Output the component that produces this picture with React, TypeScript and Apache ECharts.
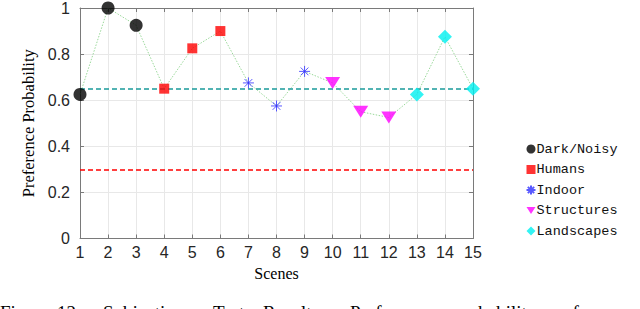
import React, { useEffect, useRef } from "react";
import * as echarts from "echarts";

const scenes = [1, 2, 3, 4, 5, 6, 7, 8, 9, 10, 11, 12, 13, 14, 15];
const preference = [0.625, 1.0, 0.925, 0.65, 0.825, 0.9, 0.675, 0.575, 0.725, 0.675, 0.55, 0.525, 0.625, 0.875, 0.65];
const categoryNames = ["Dark/Noisy", "Humans", "Indoor", "Structures", "Landscapes"];
const categoryScenes = [[1, 2, 3], [4, 5, 6], [7, 8, 9], [10, 11, 12], [13, 14, 15]];
const meanLine = 0.65;
const chanceLine = 0.3;
const captionWords = ["Fig.", "12:", "Subjective", "Test", "Results.", "Preference", "probability", "of", "our"];

const captionX = [0, 57, 103, 213, 263, 350, 453, 563, 600];

const asterisk = "path://M0,-10L0,10M-10,0L10,0M-7,-7L7,7M-7,7L7,-7";
const downTriangle = "path://M0,0L20,0L10,16Z";

const markerStyles = [
  { symbol: "circle", symbolSize: 13, color: "#000000" },
  { symbol: "rect", symbolSize: 10, color: "#ff0000" },
  { symbol: asterisk, symbolSize: 11, color: "#3030ff" },
  { symbol: downTriangle, symbolSize: [15, 12], color: "#ff00ff" },
  { symbol: "diamond", symbolSize: 14, color: "#00f0f0" },
];

export default function App() {
  const ref = useRef<HTMLDivElement>(null);
  useEffect(() => {
    if (!ref.current) return;
    const chart = echarts.init(ref.current, null, { renderer: "svg" });
    const axisColor = "#7a7a7a";
    const gridColor = "#e8e8e8";
    const labelColor = "#262626";

    const markerSeries = categoryNames.map((name, i) => {
      const m = markerStyles[i];
      const isStar = i === 2;
      return {
        name,
        type: "scatter",
        xAxisIndex: 0,
        yAxisIndex: 0,
        symbol: m.symbol,
        symbolSize: m.symbolSize,
        z: 5,
        itemStyle: isStar
          ? { color: "none", borderColor: m.color, borderWidth: 1 }
          : { color: m.color },
        data: categoryScenes[i].map((s) => [s, preference[scenes.indexOf(s)]]),
      };
    });

    const option: any = {
      animation: false,
      grid: { left: 80, right: 167, top: 6.5, bottom: 70.5 },
      legend: {
        orient: "vertical",
        left: 519,
        top: 137,
        itemWidth: 9,
        itemHeight: 9,
        itemGap: 6.5,
        data: categoryNames,
        textStyle: {
          fontFamily: "Liberation Mono",
          fontSize: 13.5,
          color: "#111",
          lineHeight: 14,
          padding: [-5, 0, 0, -4],
        },
      },
      xAxis: [
        {
          type: "value",
          min: 1,
          max: 15,
          interval: 1,
          name: "Scenes",
          nameLocation: "middle",
          nameGap: 25,
          nameTextStyle: { fontFamily: "Liberation Serif", fontSize: 16, color: "#000" },
          axisLine: { show: true, onZero: false, lineStyle: { color: axisColor, width: 1 } },
          axisTick: { show: true, inside: true, length: 4, lineStyle: { color: axisColor } },
          axisLabel: { fontFamily: "Liberation Sans", fontSize: 16, color: labelColor, margin: 6 },
          splitLine: { show: true, lineStyle: { color: gridColor, width: 1 } },
        },
        {
          type: "value",
          min: 1,
          max: 15,
          interval: 1,
          position: "top",
          axisLine: { show: true, onZero: false, lineStyle: { color: axisColor, width: 1 } },
          axisTick: { show: true, inside: true, length: 4, lineStyle: { color: axisColor } },
          axisLabel: { show: false },
          splitLine: { show: false },
        },
      ],
      yAxis: [
        {
          type: "value",
          min: 0,
          max: 1,
          interval: 0.2,
          name: "Preference Probability",
          nameLocation: "middle",
          nameGap: 38,
          nameTextStyle: { fontFamily: "Liberation Serif", fontSize: 16.5, color: "#000" },
          axisLine: { show: true, onZero: false, lineStyle: { color: axisColor, width: 1 } },
          axisTick: { show: true, inside: true, length: 4, lineStyle: { color: axisColor } },
          axisLabel: { fontFamily: "Liberation Sans", fontSize: 16, color: labelColor, margin: 10 },
          splitLine: { show: true, lineStyle: { color: gridColor, width: 1 } },
        },
        {
          type: "value",
          min: 0,
          max: 1,
          interval: 0.2,
          position: "right",
          axisLine: { show: true, onZero: false, lineStyle: { color: axisColor, width: 1 } },
          axisTick: { show: true, inside: true, length: 4, lineStyle: { color: axisColor } },
          axisLabel: { show: false },
          splitLine: { show: false },
        },
      ],
      series: [
        {
          name: "trend",
          type: "line",
          xAxisIndex: 0,
          yAxisIndex: 0,
          showSymbol: false,
          symbol: "none",
          z: 3,
          lineStyle: { color: "#9ad89a", width: 1, type: [1.5, 1.5] },
          data: scenes.map((s, i) => [s, preference[i]]),
          markLine: {
            silent: true,
            symbol: "none",
            label: { show: false },
            data: [
              { yAxis: meanLine, lineStyle: { color: "#1a9a9a", width: 1.5, type: [5, 3] } },
              { yAxis: chanceLine, lineStyle: { color: "#ff0000", width: 1.5, type: [5, 3] } },
            ],
          },
        },
        ...markerSeries,
      ],
      graphic: captionWords.map((w, i) => ({
        type: "text",
        left: captionX[i],
        top: 303,
        style: {
          text: w,
          font: "19px 'Liberation Serif'",
          fill: "#000",
        },
      })),
    };
    chart.setOption(option);
    return () => chart.dispose();
  }, []);
  return <div ref={ref} style={{ width: 640, height: 309, position: "absolute", left: 0, top: 0 }} />;
}
